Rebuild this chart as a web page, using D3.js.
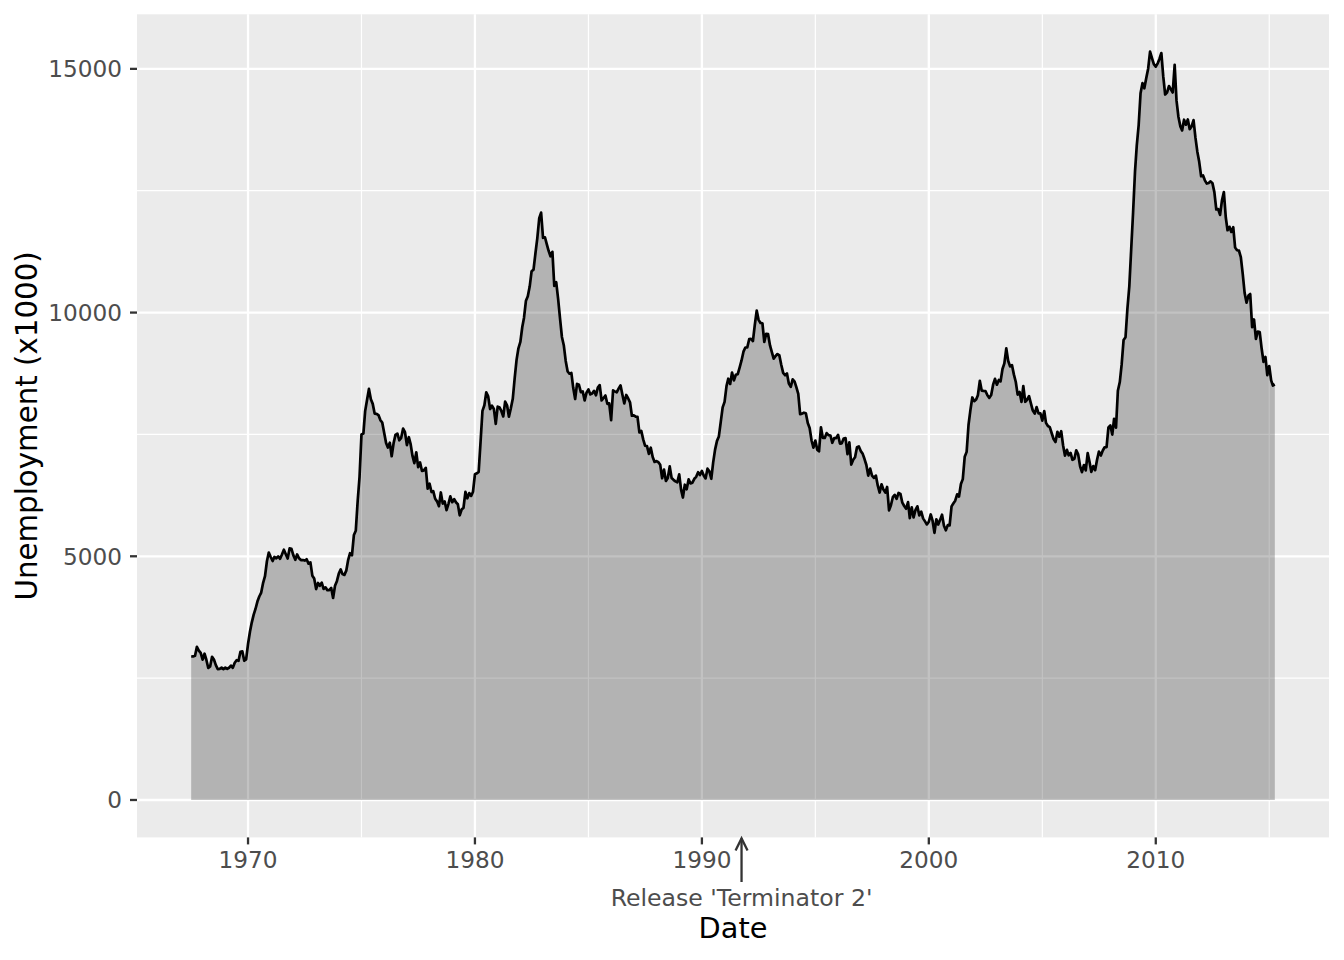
<!DOCTYPE html>
<html>
<head>
<meta charset="utf-8">
<script src="https://cdn.jsdelivr.net/npm/d3@7"></script>
<style>
  html, body { margin: 0; padding: 0; background: #ffffff; }
  svg { display: block; }
</style>
</head>
<body>
<svg id="chart" width="1344" height="960"></svg>
<script>
// ---- Data: monthly unemployment (thousands), starting July 1967 ----
const startMonth = "1967-07-01";
const u1960s = [2944, 2945, 2958, 3143, 3066, 3018,
  2878, 3001, 2877, 2709, 2740, 2938, 2883, 2768, 2686, 2689, 2715, 2685,
  2718, 2692, 2712, 2758, 2713, 2816, 2868, 2856, 3040, 3049, 2856, 2884];
const u1970s = [
  3201, 3453, 3635, 3797, 3919, 4071, 4175, 4256, 4456, 4591, 4898, 5076,
  4986, 4903, 4987, 4959, 4996, 4949, 5035, 5134, 5042, 4954, 5161, 5154,
  5019, 4928, 5038, 4959, 4922, 4923, 4913, 4939, 4849, 4875, 4602, 4543,
  4326, 4452, 4394, 4459, 4329, 4363, 4305, 4305, 4350, 4144, 4396, 4489,
  4644, 4731, 4634, 4618, 4705, 4927, 5063, 5022, 5437, 5523, 6140, 6636,
  7501, 7520, 7978, 8210, 8433, 8220, 8127, 7928, 7923, 7897, 7794, 7744,
  7534, 7326, 7230, 7330, 7053, 7322, 7490, 7518, 7380, 7430, 7620, 7545,
  7280, 7443, 7307, 7059, 6911, 7134, 6829, 6925, 6751, 6763, 6815, 6386,
  6489, 6318, 6337, 6180, 6127, 6028, 6309, 6080, 6125, 5947, 6077, 6228,
  6109, 6173, 6109, 6069, 5840, 5959, 5996, 6320, 6190, 6296, 6238, 6325];
const u1980s = [
  6683, 6702, 6729, 7358, 7984, 8098, 8363, 8281, 8021, 8088, 8023, 7718,
  8071, 8051, 7982, 7869, 8174, 8098, 7863, 8036, 8230, 8646, 9029, 9267,
  9397, 9705, 9895, 10244, 10335, 10538, 10849, 10881, 11217, 11529, 11938, 12051,
  11534, 11545, 11408, 11268, 11154, 11246, 10548, 10623, 10282, 9887, 9499, 9331,
  9008, 8791, 8746, 8762, 8456, 8226, 8537, 8519, 8367, 8381, 8198, 8358,
  8423, 8321, 8339, 8395, 8302, 8460, 8513, 8196, 8248, 8298, 8128, 8138,
  7795, 8402, 8383, 8364, 8439, 8508, 8319, 8135, 8310, 8243, 8159, 7883,
  7892, 7865, 7862, 7542, 7574, 7398, 7268, 7261, 7102, 7227, 7035, 6936,
  6953, 6929, 6876, 6601, 6779, 6546, 6605, 6843, 6604, 6568, 6537, 6518,
  6682, 6359, 6205, 6468, 6375, 6577, 6495, 6511, 6590, 6630, 6725, 6667];
const u1990s = [
  6752, 6651, 6598, 6797, 6742, 6590, 6922, 7188, 7368, 7459, 7764, 8055,
  8167, 8491, 8643, 8535, 8770, 8609, 8725, 8737, 8876, 9018, 9198, 9283,
  9283, 9454, 9460, 9415, 9744, 10040, 9850, 9787, 9781, 9398, 9565, 9557,
  9325, 9183, 9056, 9110, 9149, 9121, 8930, 8763, 8714, 8750, 8542, 8477,
  8630, 8583, 8470, 8331, 7915, 7927, 7946, 7933, 7734, 7632, 7375, 7230,
  7375, 7187, 7153, 7645, 7430, 7427, 7527, 7484, 7478, 7328, 7426, 7423,
  7491, 7313, 7318, 7415, 7423, 7095, 7337, 6882, 6979, 7031, 7236, 7253,
  7158, 7102, 7000, 6873, 6655, 6799, 6655, 6608, 6656, 6454, 6308, 6476,
  6368, 6306, 6422, 5941, 6047, 6212, 6259, 6179, 6300, 6280, 6100, 6032,
  5976, 6111, 5783, 6004, 5796, 5951, 6025, 5838, 5915, 5778, 5716, 5653];
const u2000s = [
  5708, 5858, 5733, 5481, 5758, 5651, 5747, 5853, 5625, 5534, 5639, 5634,
  6023, 6089, 6141, 6271, 6226, 6484, 6583, 7042, 7142, 7694, 8003, 8258,
  8182, 8215, 8304, 8599, 8399, 8393, 8390, 8304, 8251, 8307, 8520, 8640,
  8520, 8618, 8588, 8842, 8957, 9266, 9011, 8896, 8921, 8732, 8576, 8317,
  8370, 8167, 8491, 8170, 8212, 8286, 8136, 7990, 7927, 8061, 7932, 7934,
  7784, 7980, 7737, 7672, 7651, 7524, 7406, 7345, 7553, 7453, 7566, 7279,
  7064, 7184, 7072, 7120, 6980, 7001, 7175, 7091, 6847, 6727, 6872, 6762,
  7116, 6927, 6731, 6850, 6766, 6979, 7149, 7067, 7170, 7237, 7240, 7645,
  7685, 7497, 7822, 7637, 8395, 8575, 8937, 9438, 9494, 10074, 10538, 11286,
  12058, 12898, 13426, 13853, 14499, 14707, 14601, 14814, 15009, 15352, 15219, 15098];
const u2010s = [
  15046, 15113, 15202, 15325, 14849, 14474, 14512, 14648, 14579, 14516, 15081, 14348,
  14013, 13820, 13737, 13957, 13855, 13962, 13763, 13818, 13948, 13594, 13302, 13093,
  12797, 12813, 12713, 12646, 12660, 12692, 12656, 12471, 12115, 12124, 12005, 12298,
  12471, 11950, 11689, 11760, 11654, 11751, 11335, 11279, 11270, 11136, 10787, 10404,
  10202, 10349, 10380, 9702, 9859, 9460, 9608, 9599, 9262, 8990, 9090, 8717,
  8903, 8610, 8504, 8526];

const yTicks = [0, 5000, 10000, 15000];
const yMinor = [2500, 7500, 12500];
const xTickYears = [1970, 1980, 1990, 2000, 2010];
const xMinorYears = [1965, 1975, 1985, 1995, 2005, 2015];
const annotationDate = "1991-10-01";
const annotationLabel = "Release 'Terminator 2'";
const xTitle = "Date";
const yTitle = "Unemployment (x1000)";

// ---- Build the series ----
const values = [].concat(u1960s, u1970s, u1980s, u1990s, u2000s, u2010s);
const start = new Date(startMonth + "T00:00:00Z");
const data = values.map((v, i) => ({ date: d3.utcMonth.offset(start, i), value: v }));

// ---- Layout ----
const panel = { left: 137, right: 1329, top: 14.3, bottom: 837.4 };
const font = "'DejaVu Sans', Verdana, sans-serif";

const xExt = d3.extent(data, d => d.date);
const xSpan = xExt[1] - xExt[0];
const x = d3.scaleUtc()
  .domain([new Date(+xExt[0] - 0.05 * xSpan), new Date(+xExt[1] + 0.05 * xSpan)])
  .range([panel.left, panel.right]);
const yMax = d3.max(data, d => d.value);
const y = d3.scaleLinear()
  .domain([0 - 0.05 * yMax, yMax + 0.05 * yMax])
  .range([panel.bottom, panel.top]);

const svg = d3.select("#chart");

// panel background
svg.append("rect")
  .attr("x", panel.left).attr("y", panel.top)
  .attr("width", panel.right - panel.left).attr("height", panel.bottom - panel.top)
  .attr("fill", "#EBEBEB");

const yr = yv => new Date(Date.UTC(yv, 0, 1));
const grid = svg.append("g");
// minor grid
grid.selectAll(".ymin").data(yMinor).join("line")
  .attr("x1", panel.left).attr("x2", panel.right)
  .attr("y1", d => y(d)).attr("y2", d => y(d))
  .attr("stroke", "#fff").attr("stroke-width", 1.2);
grid.selectAll(".xmin").data(xMinorYears.filter(v => x(yr(v)) > panel.left && x(yr(v)) < panel.right)).join("line")
  .attr("y1", panel.top).attr("y2", panel.bottom)
  .attr("x1", d => x(yr(d))).attr("x2", d => x(yr(d)))
  .attr("stroke", "#fff").attr("stroke-width", 1.2);
// major grid
grid.selectAll(".ymaj").data(yTicks).join("line")
  .attr("x1", panel.left).attr("x2", panel.right)
  .attr("y1", d => y(d)).attr("y2", d => y(d))
  .attr("stroke", "#fff").attr("stroke-width", 2.3);
grid.selectAll(".xmaj").data(xTickYears).join("line")
  .attr("y1", panel.top).attr("y2", panel.bottom)
  .attr("x1", d => x(yr(d))).attr("x2", d => x(yr(d)))
  .attr("stroke", "#fff").attr("stroke-width", 2.3);

// area
const area = d3.area().x(d => x(d.date)).y0(y(0)).y1(d => y(d.value));
svg.append("path").datum(data).attr("d", area)
  .attr("fill", "#000").attr("fill-opacity", 0.24);

// line
const line = d3.line().x(d => x(d.date)).y(d => y(d.value));
svg.append("path").datum(data).attr("d", line)
  .attr("fill", "none").attr("stroke", "#000").attr("stroke-width", 2.7)
  .attr("stroke-linejoin", "round");

// axes
const yAxis = svg.append("g");
yAxis.selectAll("line").data(yTicks).join("line")
  .attr("x1", panel.left - 7).attr("x2", panel.left)
  .attr("y1", d => y(d)).attr("y2", d => y(d))
  .attr("stroke", "#333").attr("stroke-width", 2.3);
yAxis.selectAll("text").data(yTicks).join("text")
  .attr("x", panel.left - 15).attr("y", d => y(d) + 8.3)
  .attr("text-anchor", "end")
  .attr("font-family", font).attr("font-size", 23.2).attr("fill", "#4D4D4D")
  .text(d => d);

const xAxis = svg.append("g");
xAxis.selectAll("line").data(xTickYears).join("line")
  .attr("y1", panel.bottom).attr("y2", panel.bottom + 7)
  .attr("x1", d => x(yr(d))).attr("x2", d => x(yr(d)))
  .attr("stroke", "#333").attr("stroke-width", 2.3);
xAxis.selectAll("text").data(xTickYears).join("text")
  .attr("x", d => x(yr(d))).attr("y", 868.3)
  .attr("text-anchor", "middle")
  .attr("font-family", font).attr("font-size", 23.2).attr("fill", "#4D4D4D")
  .text(d => d);

// titles
svg.append("text")
  .attr("x", (panel.left + panel.right) / 2).attr("y", 938.3)
  .attr("text-anchor", "middle")
  .attr("font-family", font).attr("font-size", 28.8).attr("fill", "#000")
  .text(xTitle);
svg.append("text")
  .attr("transform", `translate(36.5, ${(panel.top + panel.bottom) / 2}) rotate(-90)`)
  .attr("text-anchor", "middle")
  .attr("font-family", font).attr("font-size", 29.3).attr("fill", "#000")
  .text(yTitle);

// annotation: arrow + label
const ax = x(new Date(annotationDate + "T00:00:00Z"));
const ann = svg.append("g").attr("stroke", "#333").attr("stroke-width", 2.3).attr("fill", "none");
ann.append("line").attr("x1", ax).attr("x2", ax).attr("y1", 882).attr("y2", panel.bottom + 1);
ann.append("path")
  .attr("d", `M${ax - 6},${panel.bottom + 13} L${ax},${panel.bottom + 1} L${ax + 6},${panel.bottom + 13}`)
  .attr("stroke-linejoin", "miter");
svg.append("text")
  .attr("x", ax).attr("y", 905.5)
  .attr("text-anchor", "middle")
  .attr("font-family", font).attr("font-size", 23.6).attr("fill", "#4D4D4D")
  .text(annotationLabel);
</script>
</body>
</html>
